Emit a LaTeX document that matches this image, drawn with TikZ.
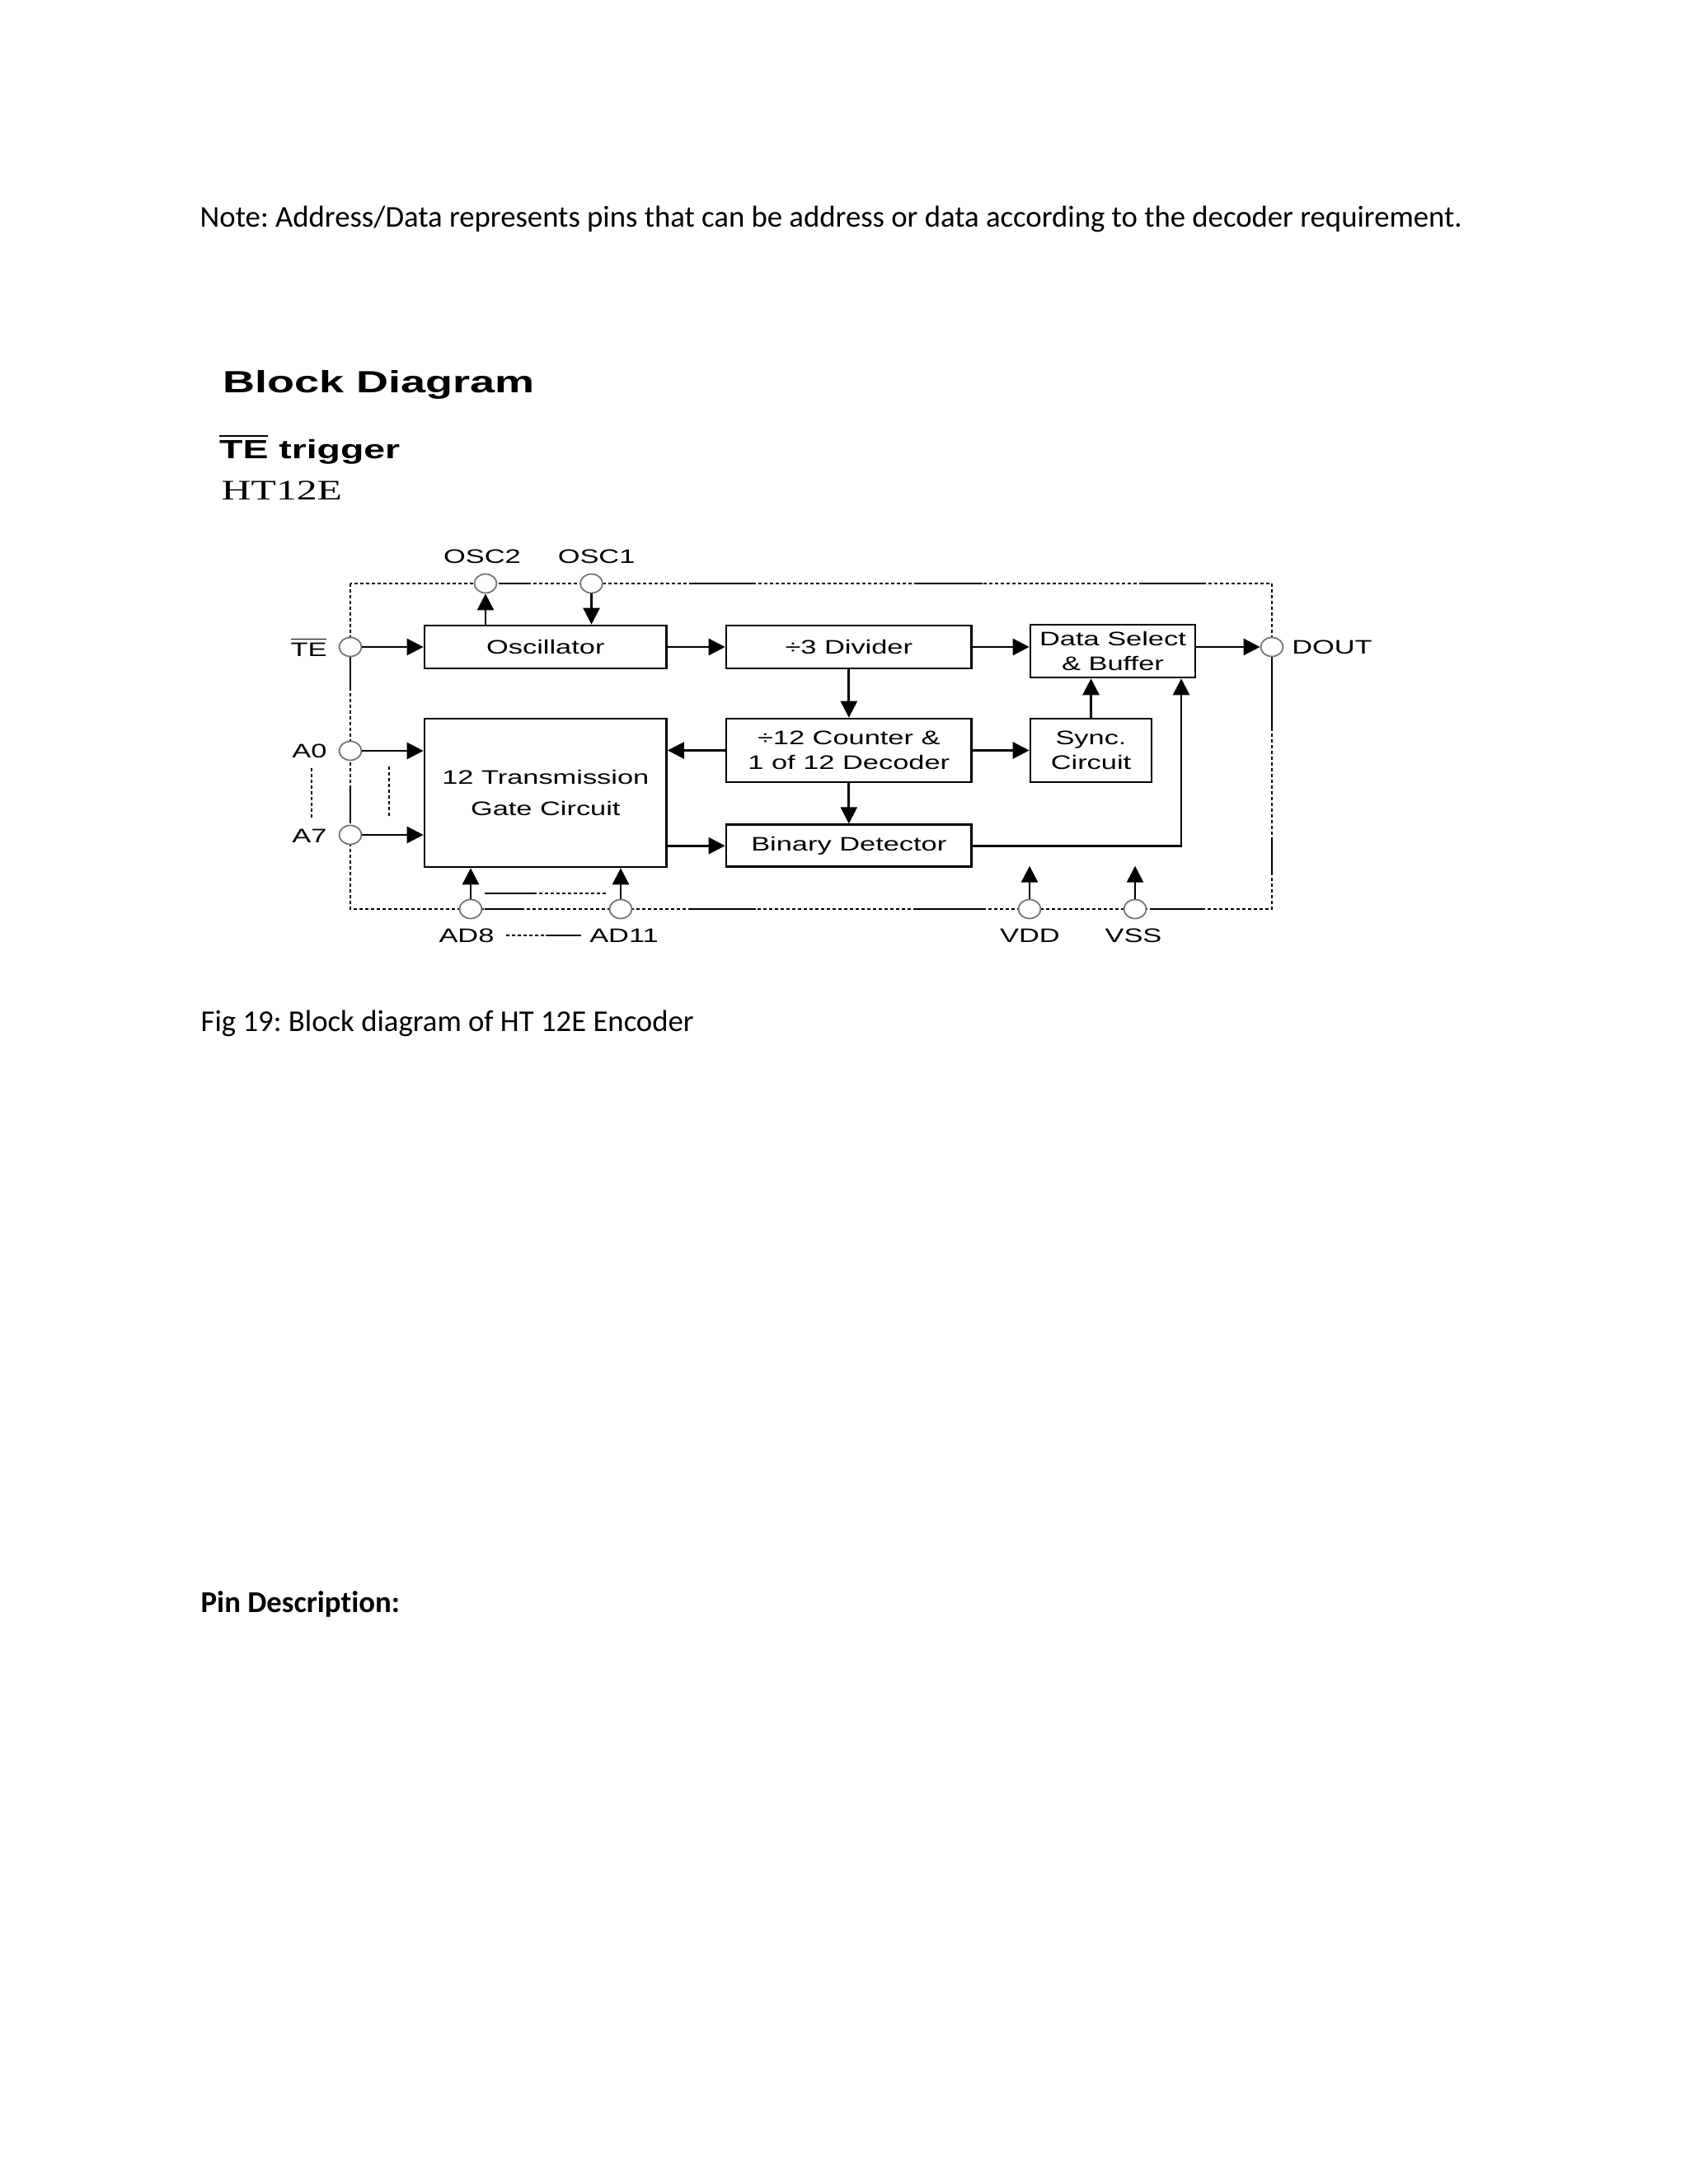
\documentclass[tikz,border=0pt]{standalone}
\usepackage{fontspec}
\usepackage{tikz}
\usetikzlibrary{calc,arrows.meta,shapes.geometric}
\setmainfont{Carlito}[Ligatures=NoCommon]
\newfontfamily\diafont[FakeStretch=1.45]{Liberation Sans}
\newfontfamily\chipfont[FakeStretch=1.45]{Liberation Serif}
\frenchspacing

\begin{document}
\begin{tikzpicture}[
  font=\fontsize{10.45}{12.5}\selectfont,
  blk/.style={draw, line width=0.75pt, inner sep=0pt, align=center, font=\diafont\fontsize{6.75}{8.4}\selectfont},
  pin/.style={ellipse, draw=black!55, line width=0.5pt, fill=white, minimum width=0.27cm, minimum height=0.23cm, inner sep=0pt},
  lbl/.style={inner sep=0pt, font=\diafont\fontsize{6.75}{8.4}\selectfont},
  arr/.style={line width=0.75pt, -{Triangle[length=0.2cm,width=0.2cm]}},
  edge/.style={line width=0.6pt, dash pattern=on 0.04cm off 0.03cm},
  ]
  \useasboundingbox (0,0) rectangle (20.48,-26.5);

  % page text
  \node[anchor=base west, inner sep=0pt] (note) at (2.42,-2.75) {Note: Address/Data represents pins that can be address or data according to the decoder requirement.};
  \node[anchor=base west, inner sep=0pt, font=\diafont\bfseries\fontsize{10.6}{12}\selectfont] (title) at (2.70,-4.767) {Block Diagram};
  \node[anchor=base west, inner sep=0pt, font=\diafont\bfseries\fontsize{9.1}{11}\selectfont] (mode) at (2.655,-5.56) {$\overline{\hbox{TE}}$ trigger};
  \node[anchor=base west, inner sep=0pt, font=\chipfont\fontsize{9.76}{11}\selectfont] (chip) at (2.68,-6.067) {HT12E};
  \node[anchor=base west, inner sep=0pt] (caption) at (2.43,-12.517) {Fig 19: Block diagram of HT 12E Encoder};
  \node[anchor=base west, inner sep=0pt, font=\bfseries\fontsize{10.45}{12.5}\selectfont] (pins) at (2.43,-19.567) {Pin Description:};

  % chip outline
  \draw[edge] (4.25,-7.08) rectangle (15.43,-11.03);
  \foreach \xa/\xb in {6.05/6.42, 8.36/9.17, 11.11/11.92, 13.82/14.60}
    \draw[line width=0.6pt] (\xa,-7.08) -- (\xb,-7.08);
  \foreach \xa/\xb in {5.88/6.35, 8.36/9.17, 11.11/11.92, 13.95/14.60}
    \draw[line width=0.6pt] (\xa,-11.03) -- (\xb,-11.03);
  \foreach \ya/\yb in {-7.92/-8.35, -9.57/-9.98}
    \draw[line width=0.6pt] (4.25,\ya) -- (4.25,\yb);
  \foreach \ya/\yb in {-7.97/-8.83, -10.17/-10.60}
    \draw[line width=0.6pt] (15.43,\ya) -- (15.43,\yb);

  % pins
  \node[pin] (osc2) at (5.89,-7.08) {};
  \node[pin] (osc1) at (7.175,-7.08) {};
  \node[pin] (te) at (4.25,-7.85) {};
  \node[pin] (a0) at (4.25,-9.11) {};
  \node[pin] (a7) at (4.25,-10.13) {};
  \node[pin] (dout) at (15.43,-7.85) {};
  \node[pin] (ad8) at (5.71,-11.03) {};
  \node[pin] (ad11) at (7.53,-11.03) {};
  \node[pin] (vdd) at (12.49,-11.03) {};
  \node[pin] (vss) at (13.77,-11.03) {};

  \node[lbl, anchor=base] (osc2lbl) at (5.85,-6.83) {OSC2};
  \node[lbl, anchor=base] (osc1lbl) at (7.236,-6.83) {OSC1};
  \node[lbl, anchor=base] (telbl) at (3.745,-7.967) {$\overline{\hbox{TE}}$};
  \node[lbl, anchor=base] (a0lbl) at (3.755,-9.19) {A0};
  \node[lbl, anchor=base] (a7lbl) at (3.755,-10.227) {A7};
  \node[lbl, anchor=base] (doutlbl) at (16.16,-7.93) {DOUT};
  \node[lbl, anchor=base] (ad8lbl) at (5.66,-11.43) {AD8};
  \node[lbl, anchor=base] (ad11lbl) at (7.57,-11.43) {AD11};
  \node[lbl, anchor=base] (vddlbl) at (12.495,-11.43) {VDD};
  \node[lbl, anchor=base] (vsslbl) at (13.75,-11.43) {VSS};

  % blocks
  \node[blk, minimum width=2.936cm, minimum height=0.52cm] (osc) at (6.618,-7.85) {Oscillator};
  \node[blk, minimum width=2.976cm, minimum height=0.52cm] (div) at (10.298,-7.85) {÷3 Divider};
  \node[blk, minimum width=2.0cm, minimum height=0.64cm] (dsel) at (13.5,-7.9) {Data Select\\\& Buffer};
  \node[blk, minimum width=2.936cm, minimum height=1.80cm] (trans) at (6.618,-9.62) {12 Transmission\\[2.2pt]Gate Circuit};
  \node[blk, minimum width=2.976cm, minimum height=0.77cm] (cnt) at (10.298,-9.105) {÷12 Counter \&\\1 of 12 Decoder};
  \node[blk, minimum width=1.47cm, minimum height=0.77cm] (sync) at (13.235,-9.105) {Sync.\\Circuit};
  \node[blk, minimum width=2.976cm, minimum height=0.51cm] (bin) at (10.298,-10.262) {Binary Detector};

  % signal flow
  \draw[arr] (te) -- (osc);
  \draw[arr] (osc2 |- osc.north) -- (osc2);
  \draw[arr] (osc1) -- (osc1 |- osc.north);
  \draw[arr] (osc) -- (div);
  \draw[arr] (div.east) -- (div.east -| dsel.west);
  \draw[arr] (dsel.east |- dout) -- (dout);
  \draw[arr] (div) -- (cnt);
  \draw[arr] (cnt) -- (trans.east |- cnt);
  \draw[arr] (cnt) -- (sync);
  \draw[arr] (sync) -- (sync |- dsel.south);
  \draw[arr] (cnt) -- (bin);
  \draw[arr] (trans.east |- bin) -- (bin);
  \coordinate (bend) at (14.33,-10.262);
  \draw[arr] (bin) -- (bend) -- (bend |- dsel.south);
  \draw[arr] (a0) -- (a0 -| trans.west);
  \draw[arr] (a7) -- (a7 -| trans.west);
  \draw[arr] (ad8) -- (ad8 |- trans.south);
  \draw[arr] (ad11) -- (ad11 |- trans.south);
  \coordinate (vddtip) at (12.49,-10.507);
  \coordinate (vsstip) at (13.77,-10.507);
  \draw[arr] (vdd) -- (vddtip);
  \draw[arr] (vss) -- (vsstip);

  % bus marks
  \draw[line width=0.6pt] (5.88,-10.84) -- (6.47,-10.84);
  \draw[edge] (6.47,-10.84) -- (7.36,-10.84);
  \draw[edge] (3.78,-9.32) -- (3.78,-9.92);
  \draw[edge] (4.72,-9.30) -- (4.72,-9.93);
  \draw[edge] ([xshift=0.14cm]ad8lbl.east) -- ([xshift=-0.53cm]ad11lbl.west);
  \draw[line width=0.6pt] ([xshift=-0.53cm]ad11lbl.west) -- ([xshift=-0.1cm]ad11lbl.west);
\end{tikzpicture}
\end{document}
